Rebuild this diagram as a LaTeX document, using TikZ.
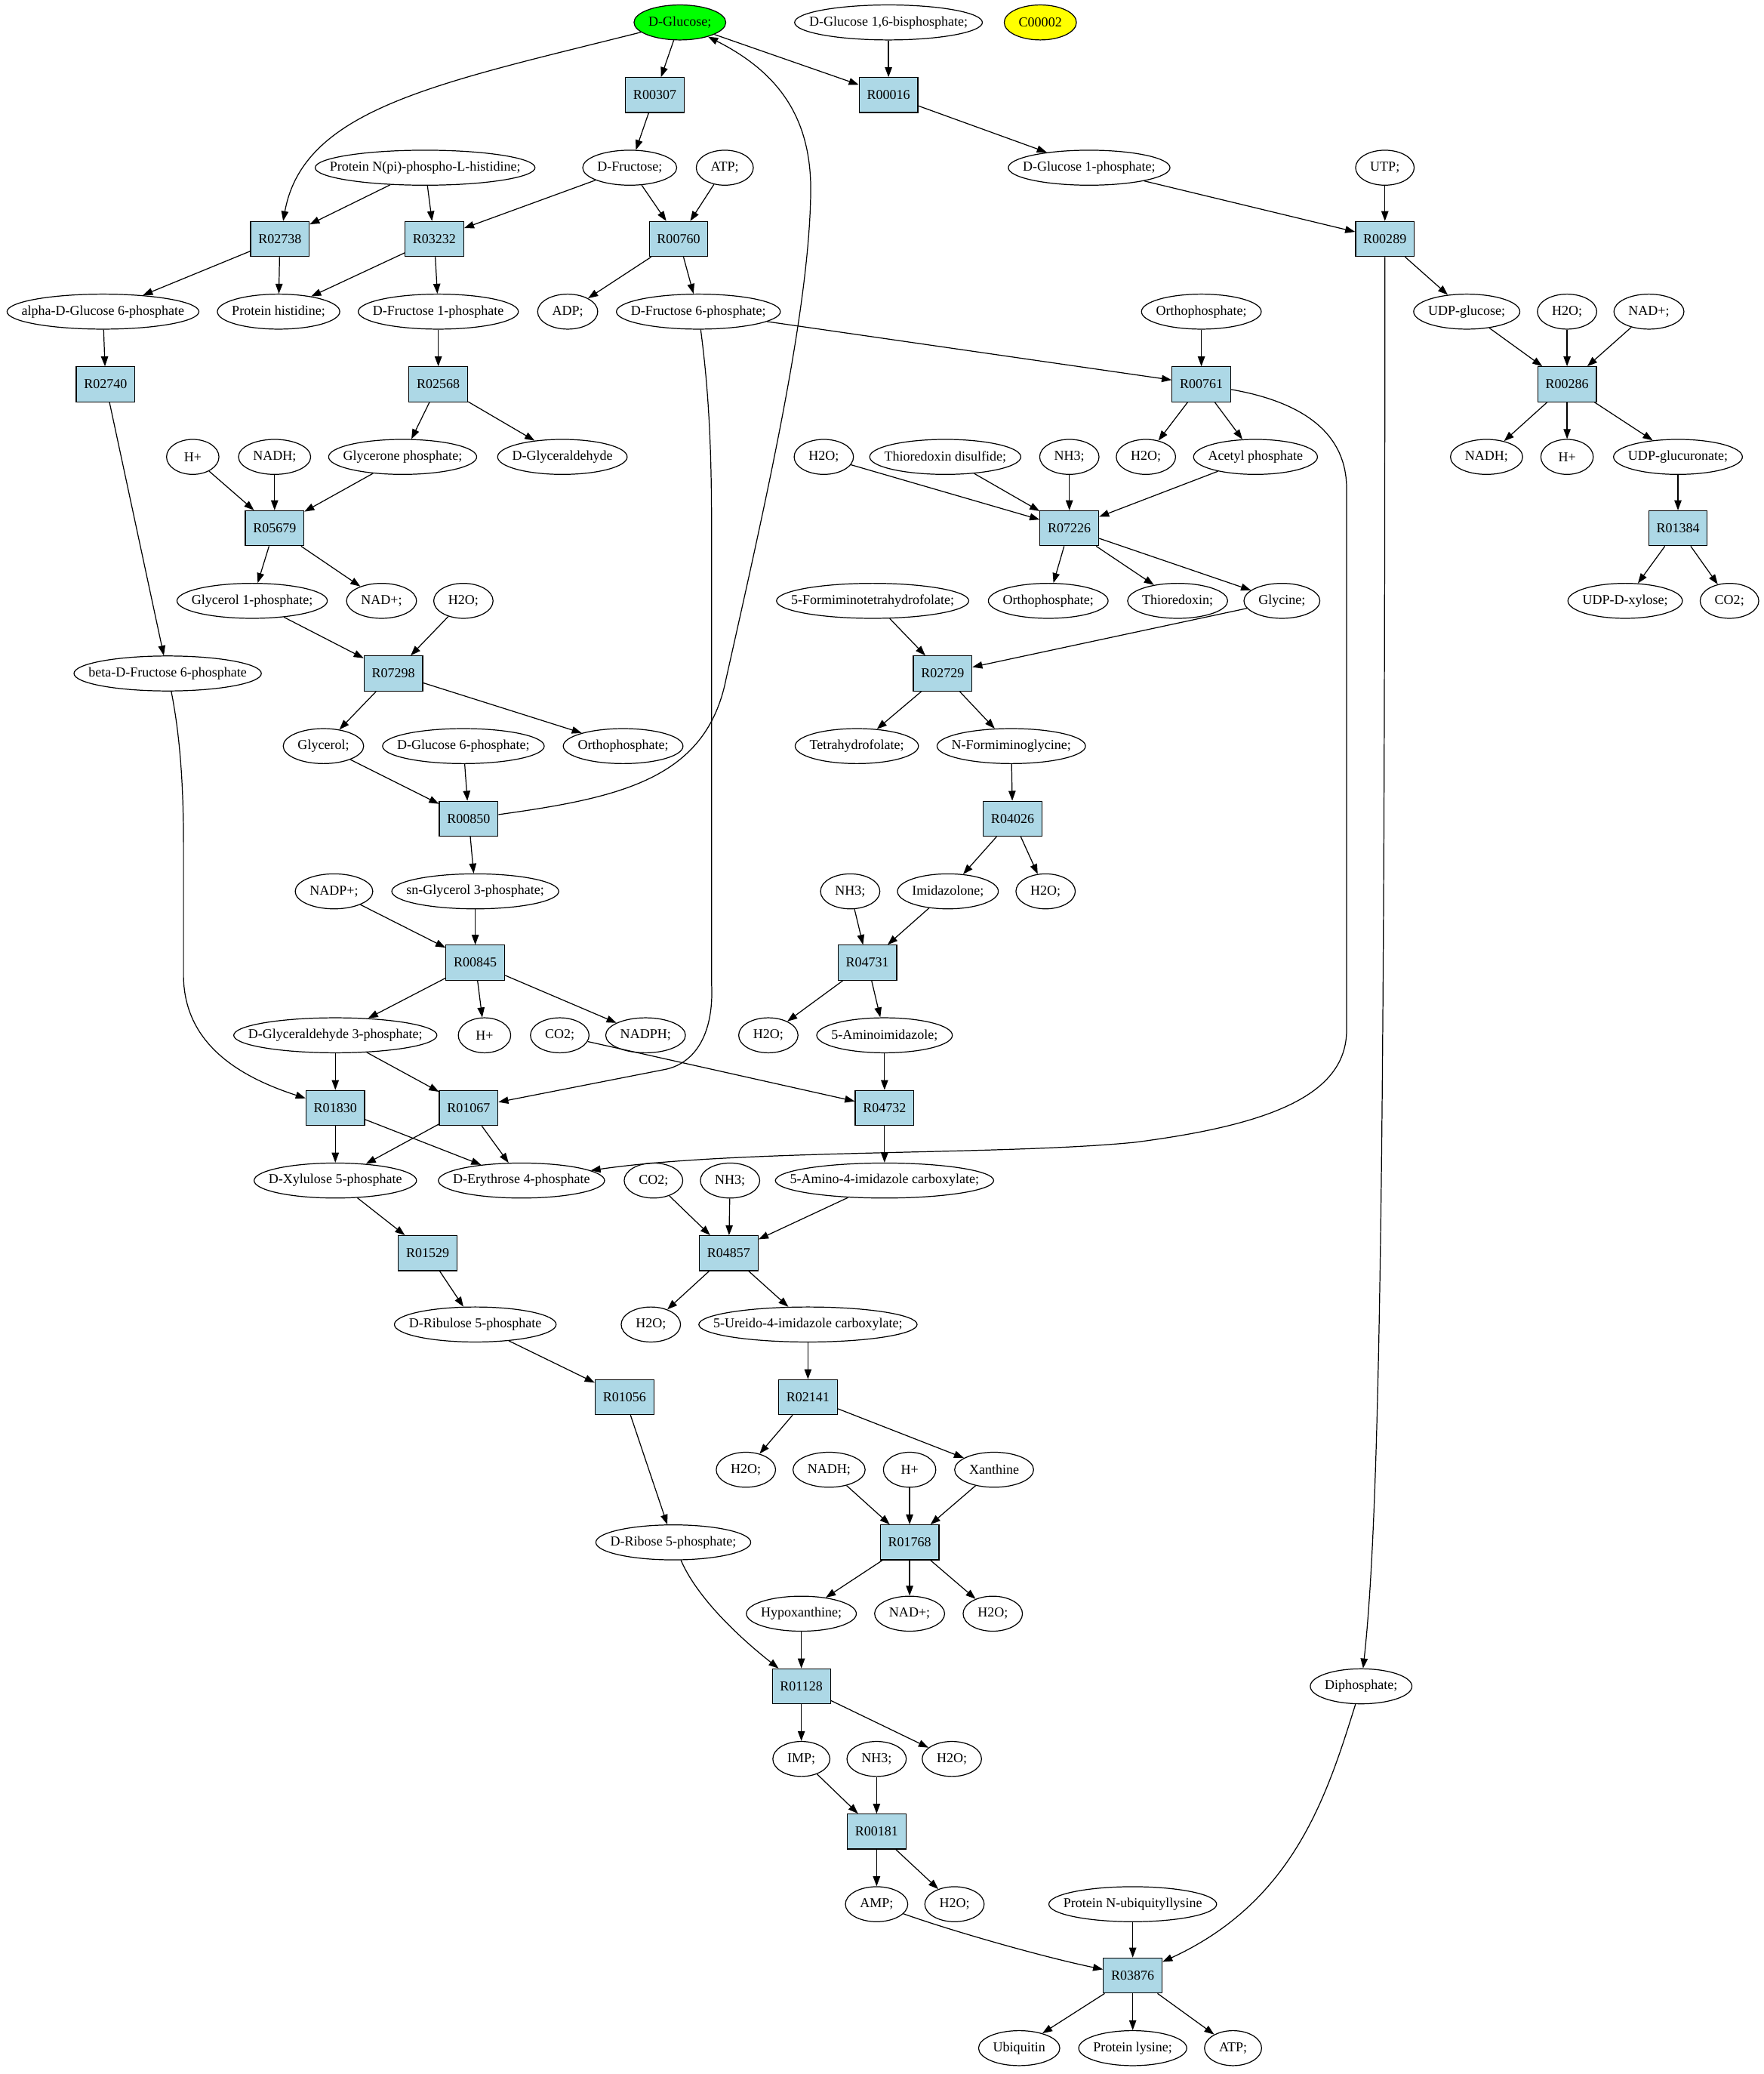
\documentclass[tikz,border=0pt]{standalone}
\usepackage{fontspec}
\setmainfont{Liberation Serif}
\usetikzlibrary{shapes.geometric,arrows.meta}
\definecolor{rxnblue}{HTML}{ADD8E6}
\definecolor{seedgreen}{HTML}{00FF00}
\definecolor{seedyellow}{HTML}{FFFF00}
\newcommand\metfont{\fontsize{10.3}{12.4}\selectfont}
% compound: text box shrunk by 1/sqrt(2), so the ellipse is text width plus margin
\newcommand\met[4][]{\node[cpd,#1] (#2) at (#3) {\makebox[.7071\width]{#4}};}
\begin{document}
\begin{tikzpicture}[x=1pt, y=-1pt, line width=0.7pt, >={Triangle[length=7.5pt,width=5.4pt]}]
  \tikzstyle{cpd}=[ellipse, draw, inner xsep=7.8pt, inner ysep=0pt, minimum height=26.5pt, minimum width=39.7pt, font=\metfont]
  \tikzstyle{rxn}=[rectangle, draw, fill=rxnblue, inner xsep=5.9pt, inner ysep=0pt, minimum height=26.5pt, minimum width=39.7pt, font=\metfont]
  \useasboundingbox (0,0) rectangle (1336,1570.6);

  \met[fill=seedgreen]{glc}{515,17}{D-Glucose;}
  \met{glcbp}{673,17}{D-Glucose 1,6-bisphosphate;}
  \met[fill=seedyellow]{cpdb}{788,17}{C00002}
  \node[rxn] (r00307) at (496,72) {R00307};
  \node[rxn] (r00016) at (673,72) {R00016};
  \met{phis}{322,127}{Protein N(pi)-phospho-L-histidine;}
  \met{fru}{477,127}{D-Fructose;}
  \met{atpa}{549,127}{ATP;}
  \met{glcip}{825,127}{D-Glucose 1-phosphate;}
  \met{utp}{1049,127}{UTP;}
  \node[rxn] (r02738) at (212,181) {R02738};
  \node[rxn] (r03232) at (329,181) {R03232};
  \node[rxn] (r00760) at (514,181) {R00760};
  \node[rxn] (r00289) at (1049,181) {R00289};
  \met{agsp}{78,236}{alpha-D-Glucose 6-phosphate}
  \met{his}{211,236}{Protein histidine;}
  \met{fip}{332,236}{D-Fructose 1-phosphate}
  \met{adp}{430,236}{ADP;}
  \met{fsp}{529,236}{D-Fructose 6-phosphate;}
  \met{pia}{910,236}{Orthophosphate;}
  \met{udpg}{1111,236}{UDP-glucose;}
  \met{h2oa}{1187,236}{H2O;}
  \met{nada}{1249,236}{NAD+;}
  \node[rxn] (r02740) at (80,291) {R02740};
  \node[rxn] (r02568) at (332,291) {R02568};
  \node[rxn] (r00761) at (910,291) {R00761};
  \node[rxn] (r00286) at (1187,291) {R00286};
  \met{hpa}{146,346}{H+}
  \met{nadha}{208,346}{NADH;}
  \met{dhap}{305,346}{Glycerone phosphate;}
  \met{gald}{426,346}{D-Glyceraldehyde}
  \met{h2ob}{624,346}{H2O;}
  \met{trxss}{716,346}{Thioredoxin disulfide;}
  \met{nhia}{810,346}{NH3;}
  \met{h2oc}{868,346}{H2O;}
  \met{acp}{951,346}{Acetyl phosphate}
  \met{nadhb}{1126,346}{NADH;}
  \met{hpb}{1187,346}{H+}
  \met{udpga}{1271,346}{UDP-glucuronate;}
  \node[rxn] (r05679) at (208,400) {R05679};
  \node[rxn] (r07226) at (810,400) {R07226};
  \node[rxn] (r01384) at (1271,400) {R01384};
  \met{gip}{191,455}{Glycerol 1-phosphate;}
  \met{nadb}{289,455}{NAD+;}
  \met{h2od}{351,455}{H2O;}
  \met{fthf}{661,455}{5-Formiminotetrahydrofolate;}
  \met{pib}{794,455}{Orthophosphate;}
  \met{trx}{892,455}{Thioredoxin;}
  \met{gly}{971,455}{Glycine;}
  \met{udpx}{1231,455}{UDP-D-xylose;}
  \met{coa}{1310,455}{CO2;}
  \met{bfsp}{127,510}{beta-D-Fructose 6-phosphate}
  \node[rxn] (r07298) at (298,510) {R07298};
  \node[rxn] (r02729) at (714,510) {R02729};
  \met{glyc}{245,565}{Glycerol;}
  \met{gsp}{351,565}{D-Glucose 6-phosphate;}
  \met{pic}{472,565}{Orthophosphate;}
  \met{thf}{649,565}{Tetrahydrofolate;}
  \met{fig}{766,565}{N-Formiminoglycine;}
  \node[rxn] (r00850) at (355,620) {R00850};
  \node[rxn] (r04026) at (767,620) {R04026};
  \met{nadp}{253,675}{NADP+;}
  \met{snp}{360,675}{sn-Glycerol 3-phosphate;}
  \met{nhib}{644,675}{NH3;}
  \met{imz}{718,675}{Imidazolone;}
  \met{h2oe}{792,675}{H2O;}
  \node[rxn] (r00845) at (360,729) {R00845};
  \node[rxn] (r04731) at (657,729) {R04731};
  \met{gap}{254,784}{D-Glyceraldehyde 3-phosphate;}
  \met{hpc}{367,784}{H+}
  \met{cob}{424,784}{CO2;}
  \met{nadph}{489,784}{NADPH;}
  \met{h2of}{582,784}{H2O;}
  \met{air}{670,784}{5-Aminoimidazole;}
  \node[rxn] (r01830) at (254,839) {R01830};
  \node[rxn] (r01067) at (355,839) {R01067};
  \node[rxn] (r04732) at (670,839) {R04732};
  \met{xup}{254,894}{D-Xylulose 5-phosphate}
  \met{eryp}{395,894}{D-Erythrose 4-phosphate}
  \met{coc}{495,894}{CO2;}
  \met{nhic}{553,894}{NH3;}
  \met{aic}{670,894}{5-Amino-4-imidazole carboxylate;}
  \node[rxn] (r01529) at (324,949) {R01529};
  \node[rxn] (r04857) at (552,949) {R04857};
  \met{rup}{360,1003}{D-Ribulose 5-phosphate}
  \met{h2og}{493,1003}{H2O;}
  \met{uic}{612,1003}{5-Ureido-4-imidazole carboxylate;}
  \node[rxn] (r01056) at (473,1058) {R01056};
  \node[rxn] (r02141) at (612,1058) {R02141};
  \met{h2oh}{565,1113}{H2O;}
  \met{nadhc}{628,1113}{NADH;}
  \met{hpd}{689,1113}{H+}
  \met{xan}{753,1113}{Xanthine}
  \met{ribp}{510,1168}{D-Ribose 5-phosphate;}
  \node[rxn] (r01768) at (689,1168) {R01768};
  \met{hyp}{607,1222}{Hypoxanthine;}
  \met{nadc}{689,1222}{NAD+;}
  \met{h2oi}{752,1222}{H2O;}
  \node[rxn] (r01128) at (607,1277) {R01128};
  \met{ppi}{1031,1277}{Diphosphate;}
  \met{imp}{607,1332}{IMP;}
  \met{nhid}{664,1332}{NH3;}
  \met{h2oj}{721,1332}{H2O;}
  \node[rxn] (r00181) at (664,1387) {R00181};
  \met{amp}{664,1442}{AMP;}
  \met{h2ok}{723,1442}{H2O;}
  \met{ubk}{858,1442}{Protein N-ubiquityllysine}
  \node[rxn] (r03876) at (858,1496) {R03876};
  \met{ubq}{772,1551}{Ubiquitin}
  \met{lys}{858,1551}{Protein lysine;}
  \met{atpb}{934,1551}{ATP;}

  % edges
  \draw[->] (glc) -- (r00307);
  \draw[->] (glc) .. controls (332,63) and (230,82) .. (r02738);
  \draw[->] (glc) -- (r00016);
  \draw[->] (glcbp) -- (r00016);
  \draw[->] (r00016) -- (glcip);
  \draw[->] (r00307) -- (fru);
  \draw[->] (fru) -- (r03232);
  \draw[->] (fru) -- (r00760);
  \draw[->] (atpa) -- (r00760);
  \draw[->] (phis) -- (r02738);
  \draw[->] (phis) -- (r03232);
  \draw[->] (r02738) -- (agsp);
  \draw[->] (r02738) -- (his);
  \draw[->] (r03232) -- (his);
  \draw[->] (r03232) -- (fip);
  \draw[->] (r00760) -- (adp);
  \draw[->] (r00760) -- (fsp);
  \draw[->] (glcip) -- (r00289);
  \draw[->] (utp) -- (r00289);
  \draw[->] (r00289) -- (udpg);
  \draw[->] (r00289) .. controls (1049,900) and (1045,1150) .. (ppi);
  \draw[->] (fsp) -- (r00761);
  \draw[->] (fsp) .. controls (536,290) and (539,330) .. (539,400) -- (539,745)
     .. controls (541,785) and (525,806) .. (503,810) -- (r01067);
  \draw[->] (pia) -- (r00761);
  \draw[->] (r00761) -- (h2oc);
  \draw[->] (r00761) -- (acp);
  \draw[->] (r00761) .. controls (990,305) and (1020,330) .. (1020,370) -- (1020,780)
     .. controls (1020,830) and (960,852) .. (860,865) .. controls (760,875) and (560,870) .. (eryp);
  \draw[->] (udpg) -- (r00286);
  \draw[->] (h2oa) -- (r00286);
  \draw[->] (nada) -- (r00286);
  \draw[->] (r00286) -- (nadhb);
  \draw[->] (r00286) -- (hpb);
  \draw[->] (r00286) -- (udpga);
  \draw[->] (udpga) -- (r01384);
  \draw[->] (r01384) -- (udpx);
  \draw[->] (r01384) -- (coa);
  \draw[->] (agsp) -- (r02740);
  \draw[->] (r02740) -- (bfsp);
  \draw[->] (bfsp) .. controls (137,560) and (139,600) .. (139,640) -- (139,740)
     .. controls (140,790) and (180,815) .. (r01830);
  \draw[->] (fip) -- (r02568);
  \draw[->] (r02568) -- (dhap);
  \draw[->] (r02568) -- (gald);
  \draw[->] (hpa) -- (r05679);
  \draw[->] (nadha) -- (r05679);
  \draw[->] (dhap) -- (r05679);
  \draw[->] (r05679) -- (gip);
  \draw[->] (r05679) -- (nadb);
  \draw[->] (gip) -- (r07298);
  \draw[->] (h2od) -- (r07298);
  \draw[->] (r07298) -- (glyc);
  \draw[->] (r07298) -- (pic);
  \draw[->] (glyc) -- (r00850);
  \draw[->] (gsp) -- (r00850);
  \draw[->] (r00850) .. controls (470,604) and (535,590) .. (550,514)
     .. controls (580,380) and (612,240) .. (614,150) .. controls (616,90) and (590,55) .. (glc);
  \draw[->] (r00850) -- (snp);
  \draw[->] (snp) -- (r00845);
  \draw[->] (nadp) -- (r00845);
  \draw[->] (r00845) -- (gap);
  \draw[->] (r00845) -- (hpc);
  \draw[->] (r00845) -- (nadph);
  \draw[->] (gap) -- (r01830);
  \draw[->] (gap) -- (r01067);
  \draw[->] (r01830) -- (xup);
  \draw[->] (r01830) -- (eryp);
  \draw[->] (r01067) -- (xup);
  \draw[->] (r01067) -- (eryp);
  \draw[->] (xup) -- (r01529);
  \draw[->] (r01529) -- (rup);
  \draw[->] (rup) -- (r01056);
  \draw[->] (r01056) -- (ribp);
  \draw[->] (ribp) .. controls (528,1210) and (560,1240) .. (r01128);
  \draw[->] (h2ob) -- (r07226);
  \draw[->] (trxss) -- (r07226);
  \draw[->] (nhia) -- (r07226);
  \draw[->] (acp) -- (r07226);
  \draw[->] (r07226) -- (pib);
  \draw[->] (r07226) -- (trx);
  \draw[->] (r07226) -- (gly);
  \draw[->] (gly) -- (r02729);
  \draw[->] (fthf) -- (r02729);
  \draw[->] (r02729) -- (thf);
  \draw[->] (r02729) -- (fig);
  \draw[->] (fig) -- (r04026);
  \draw[->] (r04026) -- (imz);
  \draw[->] (r04026) -- (h2oe);
  \draw[->] (nhib) -- (r04731);
  \draw[->] (imz) -- (r04731);
  \draw[->] (r04731) -- (h2of);
  \draw[->] (r04731) -- (air);
  \draw[->] (air) -- (r04732);
  \draw[->] (cob) -- (r04732);
  \draw[->] (r04732) -- (aic);
  \draw[->] (coc) -- (r04857);
  \draw[->] (nhic) -- (r04857);
  \draw[->] (aic) -- (r04857);
  \draw[->] (r04857) -- (h2og);
  \draw[->] (r04857) -- (uic);
  \draw[->] (uic) -- (r02141);
  \draw[->] (r02141) -- (h2oh);
  \draw[->] (r02141) -- (xan);
  \draw[->] (nadhc) -- (r01768);
  \draw[->] (hpd) -- (r01768);
  \draw[->] (xan) -- (r01768);
  \draw[->] (r01768) -- (hyp);
  \draw[->] (r01768) -- (nadc);
  \draw[->] (r01768) -- (h2oi);
  \draw[->] (hyp) -- (r01128);
  \draw[->] (r01128) -- (imp);
  \draw[->] (r01128) -- (h2oj);
  \draw[->] (imp) -- (r00181);
  \draw[->] (nhid) -- (r00181);
  \draw[->] (r00181) -- (amp);
  \draw[->] (r00181) -- (h2ok);
  \draw[->] (amp) .. controls (720,1462) and (790,1482) .. (r03876);
  \draw[->] (ubk) -- (r03876);
  \draw[->] (ppi) .. controls (1005,1360) and (980,1440) .. (r03876);
  \draw[->] (r03876) -- (ubq);
  \draw[->] (r03876) -- (lys);
  \draw[->] (r03876) -- (atpb);
\end{tikzpicture}
\end{document}
